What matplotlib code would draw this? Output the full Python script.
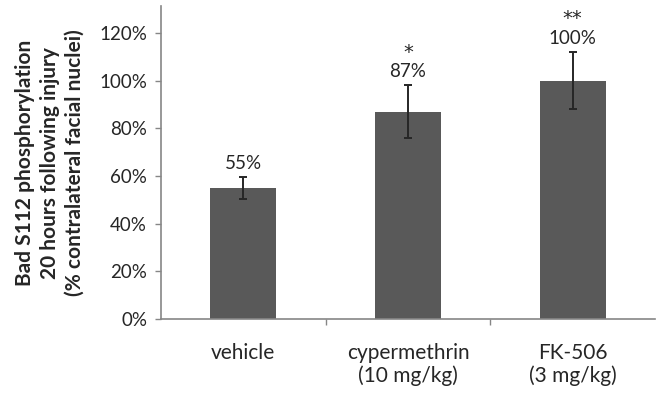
import matplotlib
matplotlib.use("Agg")
import matplotlib.pyplot as plt

categories = ["vehicle", "cypermethrin\n(10 mg/kg)", "FK-506\n(3 mg/kg)"]
values = [55, 87, 100]
errors = [4.5, 11, 12]
value_labels = ["55%", "87%", "100%"]
stars = ["", "*", "**"]
yticks = [0, 20, 40, 60, 80, 100, 120]

plt.rcParams['font.family'] = ['Lato', 'DejaVu Sans']

fig = plt.figure(figsize=(6.56, 3.97), dpi=100)
ax = fig.add_axes([161/656, 78/397, (655-161)/656, (319-6)/397])

x = list(range(len(categories)))
ax.bar(x, values, width=0.4, color="#595959", zorder=2)
ax.errorbar(x, values, yerr=errors, fmt="none", ecolor="#262626",
            elinewidth=1.4, capsize=3, capthick=1.4, zorder=3)

for xi, v, e, lab, st in zip(x, values, errors, value_labels, stars):
    ax.annotate(lab, (xi, v + e), xytext=(0, 10), textcoords="offset points",
                ha="center", va="center", fontsize=13.5, color="#262626")
    if st:
        ax.annotate(st, (xi, v + e), xytext=(0, 24), textcoords="offset points",
                    ha="center", va="center", fontsize=14, color="#262626",
                    family="DejaVu Sans")

ax.set_xlim(-0.5, 2.5)
ax.set_ylim(0, 120 * 313 / 286)
ax.set_yticks(yticks)
ax.set_yticklabels([f"{t}%" for t in yticks], fontsize=13.5, color="#262626")
ax.set_xticks(x)
ax.set_xticklabels(categories, fontsize=15, color="#262626", linespacing=1.15)
ax.tick_params(axis="x", length=0, pad=17)
ax.set_xticks([0.5, 1.5], minor=True)
ax.tick_params(axis="x", which="minor", length=4, color="#868686", width=1)
ax.tick_params(axis="y", length=4, color="#868686", width=1, pad=6)

for s in ["top", "right"]:
    ax.spines[s].set_visible(False)
for s in ["left", "bottom"]:
    ax.spines[s].set_color("#868686")
    ax.spines[s].set_linewidth(1.2)

fig.text(50/656, 1 - 163/397,
         "Bad S112 phosphorylation\n20 hours following injury\n(% contralateral facial nuclei)",
         rotation=90, ha="center", va="center", fontsize=15, fontweight="bold",
         color="#262626", linespacing=1.3)

fig.savefig("out.png", dpi=100)
